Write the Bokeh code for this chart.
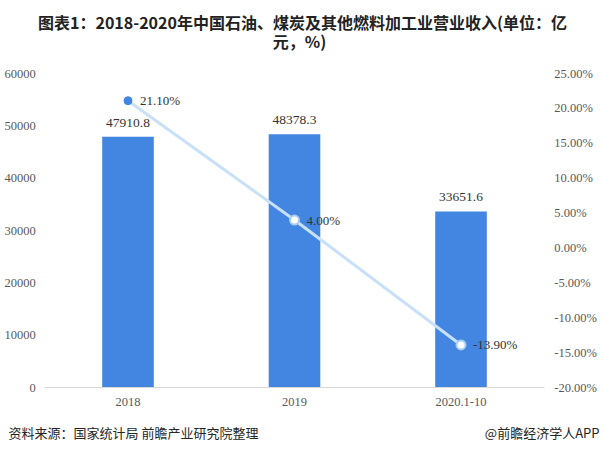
from bokeh.plotting import figure
from bokeh.models import (ColumnDataSource, Range1d, LinearAxis, FixedTicker,
                          NumeralTickFormatter, PrintfTickFormatter, CustomJSTickFormatter,
                          LabelSet, Label)
from bokeh.embed import file_html
from bokeh.resources import INLINE

# ---- data ----
categories = ["2018", "2019", "2020.1-10"]
revenue = [47910.8, 48378.3, 33651.6]
growth = [21.10, 4.00, -13.90]
revenue_labels = ["47910.8", "48378.3", "33651.6"]
growth_labels = ["21.10%", "4.00%", "-13.90%"]
left_ticks = [0, 10000, 20000, 30000, 40000, 50000, 60000]
right_ticks = [-20, -15, -10, -5, 0, 5, 10, 15, 20, 25]
title_line1 = "图表1：2018-2020年中国石油、煤炭及其他燃料加工业营业收入(单位：亿"
title_line2 = "元，%)"
source_text = "资料来源：国家统计局 前瞻产业研究院整理"
brand_text = "@前瞻经济学人APP"

SERIF = "Liberation Serif"
SANS = "Noto Sans CJK SC"

# ---- layout geometry (page pixels) ----
W, H = 604, 452
PLOT_L, PLOT_R, PLOT_T, PLOT_B = 44.25, 543.75, 73.0, 387.0
n = len(categories)
xpos = [i + 0.5 for i in range(n)]

px_per_x = (PLOT_R - PLOT_L) / n
x_start = -PLOT_L / px_per_x
x_end = n + (W - PLOT_R) / px_per_x

lo, hi = left_ticks[0], left_ticks[-1]
py_per_y = (PLOT_B - PLOT_T) / (hi - lo)
y_start = lo - (H - PLOT_B) / py_per_y
y_end = hi + PLOT_T / py_per_y

rlo, rhi = right_ticks[0], right_ticks[-1]
py_per_r = (PLOT_B - PLOT_T) / (rhi - rlo)
r_start = rlo - (H - PLOT_B) / py_per_r
r_end = rhi + PLOT_T / py_per_r

src = ColumnDataSource(dict(x=xpos, rev=revenue, growth=growth,
                            rev_lab=revenue_labels, g_lab=growth_labels,
                            mfill=["#3f86e2", "white", "white"],
                            mline=["#3f86e2", "#a9cdf3", "#a9cdf3"],
                            msize=[8, 9, 9],
                            mwidth=[1, 2, 2]))

p = figure(width=W, height=H, output_backend="svg", toolbar_location=None,
           x_range=Range1d(x_start, x_end), y_range=Range1d(y_start, y_end),
           min_border=0, min_border_left=0, min_border_right=0,
           min_border_top=0, min_border_bottom=0)
p.extra_y_ranges = {"pct": Range1d(r_start, r_end)}
p.outline_line_color = None
p.xgrid.grid_line_color = None
p.ygrid.grid_line_color = None

p.vbar(x="x", top="rev", width=0.31, source=src, fill_color="#4286e2", line_color=None)

p.line(x="x", y="growth", y_range_name="pct", source=src, line_color="#c8e0f8", line_width=3)
p.scatter(x="x", y="growth", y_range_name="pct", source=src, size="msize",
          fill_color="mfill", line_color="mline", line_width="mwidth")

p.add_layout(LabelSet(x="x", y="rev", text="rev_lab", source=src, y_offset=14,
                      text_align="center", text_baseline="middle",
                      text_font=SERIF, text_font_size="13.5px", text_color="#333333"))
p.add_layout(LabelSet(x="x", y="growth", text="g_lab", source=src, y_range_name="pct",
                      x_offset=12, text_align="left", text_baseline="middle",
                      text_font=SERIF, text_font_size="13px", text_color="#333333"))


def style_axis(ax, standoff):
    ax.major_tick_line_color = None
    ax.minor_tick_line_color = None
    ax.major_tick_out = 0
    ax.major_tick_in = 0
    ax.major_label_standoff = standoff
    ax.major_label_text_font = SERIF
    ax.major_label_text_font_size = "12.5px"
    ax.major_label_text_color = "#595959"


# left axis
ya = p.yaxis[0]
ya.fixed_location = 0
ya.bounds = (lo, hi)
ya.ticker = FixedTicker(ticks=left_ticks)
ya.formatter = NumeralTickFormatter(format="0")
ya.axis_line_color = None
style_axis(ya, 9)

# right axis
ra = LinearAxis(y_range_name="pct", ticker=FixedTicker(ticks=right_ticks),
                formatter=PrintfTickFormatter(format="%.2f%%"))
ra.fixed_location = n
ra.bounds = (rlo, rhi)
ra.axis_line_color = None
style_axis(ra, 10)
p.add_layout(ra, "right")

# category axis
xa = p.xaxis[0]
xa.fixed_location = 0
xa.bounds = (0, n)
xa.ticker = FixedTicker(ticks=xpos)
xa.formatter = CustomJSTickFormatter(args=dict(cats=categories),
                                     code="var i = Math.round(tick - 0.5); return (i >= 0 && i < cats.length) ? cats[i] : '';")
xa.axis_line_color = "#d9d9d9"
xa.axis_line_width = 1
style_axis(xa, 10)


# title and footer (screen units, frame covers the whole canvas)
def add_text(x, y_page, text, align, size, bold=False, color="#222222"):
    p.add_layout(Label(x=x, y=H - y_page, x_units="screen", y_units="screen", text=text,
                       text_align=align, text_baseline="middle", text_font=SANS,
                       text_font_size=size, text_font_style="bold" if bold else "normal",
                       text_color=color))


add_text(302, 21, title_line1, "center", "16px", bold=True)
add_text(299, 40, title_line2, "center", "16px", bold=True)
add_text(8, 432, source_text, "left", "13px", color="#262626")
add_text(599, 432, brand_text, "right", "13px", color="#262626")

open("out.html", "w").write(file_html(p, INLINE))
